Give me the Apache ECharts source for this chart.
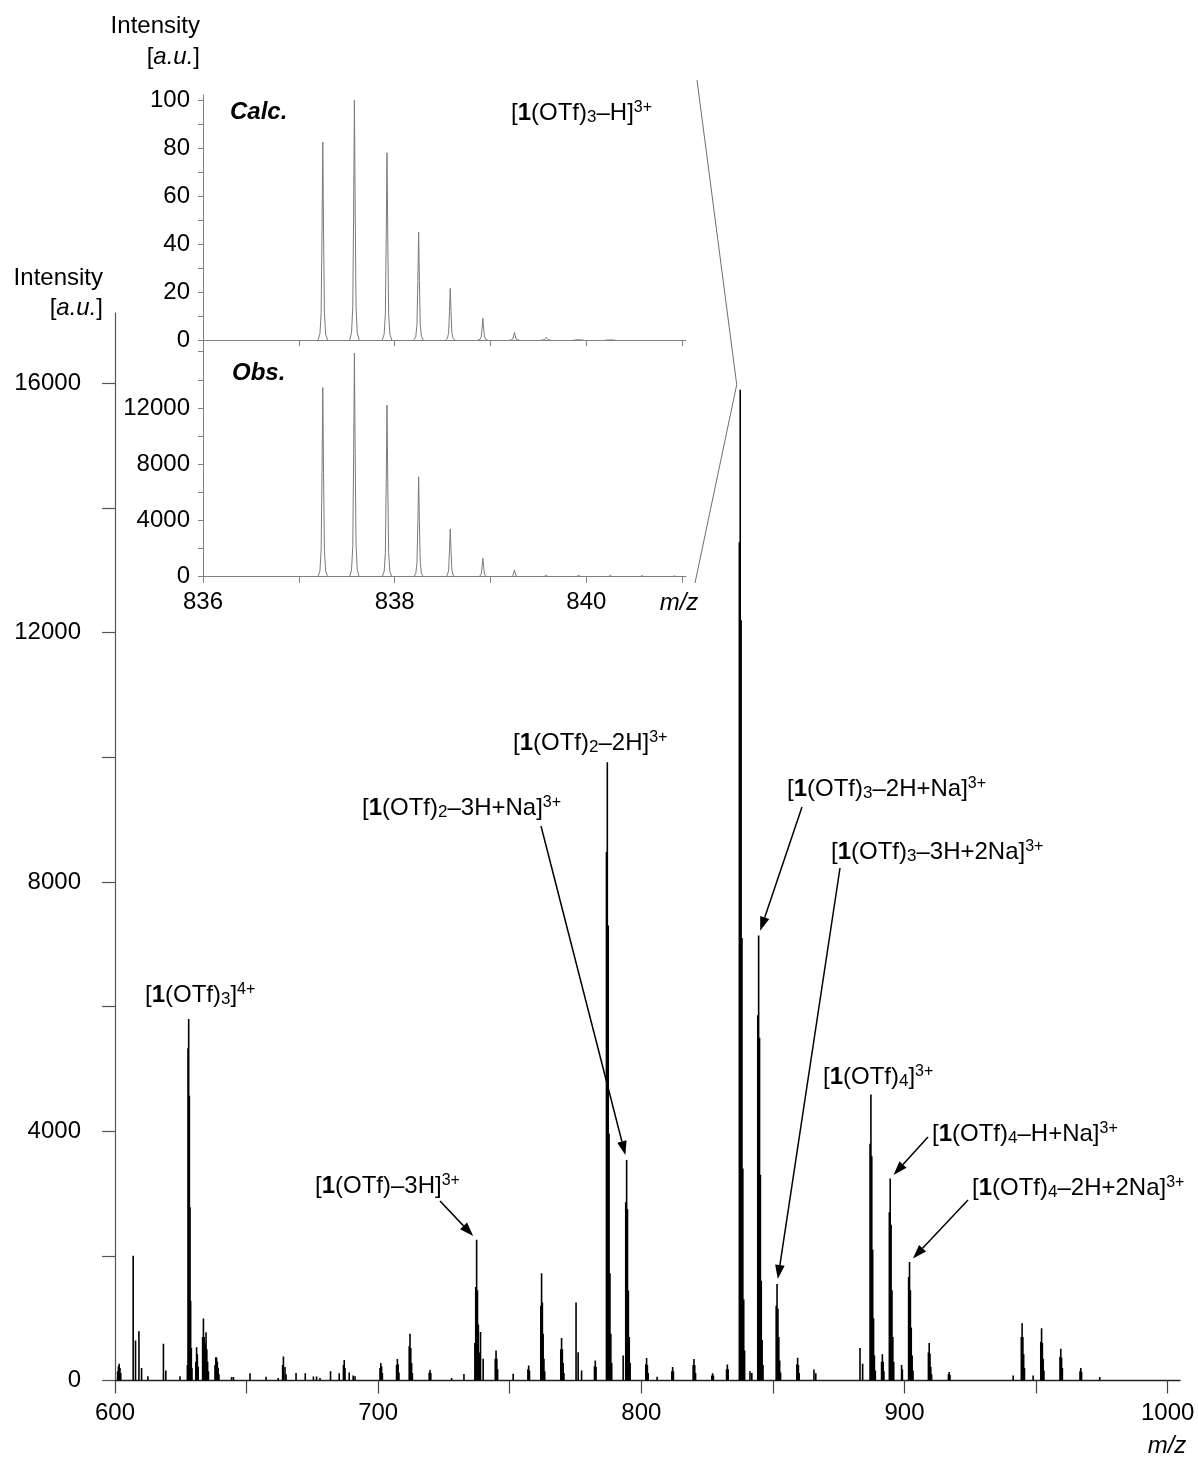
<!DOCTYPE html>
<html>
<head>
<meta charset="utf-8">
<script src="https://cdn.jsdelivr.net/npm/echarts@6/dist/echarts.min.js"></script>
<style>
  html, body { margin: 0; padding: 0; background: #ffffff; }
  #chart { width: 1198px; height: 1459px; }
</style>
</head>
<body>
<div id="chart"></div>
<script>
// ---------- Full ESI mass spectrum (m/z, intensity) ----------
const mainMz = [
  601.0, 601.3, 601.6, 601.9, 602.2, 606.9, 607.8, 609.1, 610.1, 612.5, 618.4, 619.3, 624.7,
  627.5, 627.75, 628.0, 628.25, 628.5, 628.75, 629.0, 629.25,
  630.7, 631.0, 631.3, 631.6, 633.3, 633.6, 633.9, 634.3, 634.6, 634.9, 635.2, 635.5,
  638.0, 638.3, 638.6, 638.9, 639.2, 639.5, 644.3, 645.0, 651.3, 657.4, 662.0,
  663.7, 664.0, 664.6, 665.0, 668.8, 672.3, 675.4, 676.6, 677.9, 681.9, 685.2,
  686.8, 687.1, 687.4, 689.0, 690.5, 691.2,
  700.7, 701.0, 701.3, 701.6, 707.0, 707.3, 707.6, 707.9, 711.8, 712.1, 712.4, 712.7, 713.0,
  719.4, 719.7, 720.0, 727.9, 732.6,
  736.75, 737.08, 737.42, 737.75, 738.08, 738.42, 738.9, 739.9,
  744.5, 744.8, 745.1, 745.4, 751.3, 756.9, 757.2, 757.5,
  761.8, 762.1, 762.4, 762.7, 763.0, 763.3, 769.4, 769.7, 770.0, 770.3, 770.6,
  775.2, 776.0, 777.3, 782.2, 782.5, 782.8,
  786.75, 787.08, 787.42, 787.75, 788.08, 788.42, 788.75, 793.1,
  794.08, 794.42, 794.75, 795.08, 795.42, 795.75,
  801.7, 802.0, 802.3, 802.6, 806.0, 811.6, 811.9, 812.2, 819.7, 820.0, 820.3, 820.6,
  826.8, 827.1, 827.4, 832.4, 832.7, 833.0,
  837.25, 837.58, 837.92, 838.25, 838.58, 838.92, 839.25, 841.3, 842.0,
  844.25, 844.58, 844.92, 845.25, 845.58, 845.92, 846.25,
  851.25, 851.58, 851.92, 852.25, 852.58, 852.92,
  859.1, 859.4, 859.7, 860.0, 865.6, 866.3, 883.1, 884.1,
  886.92, 887.25, 887.58, 887.92, 888.25, 888.58, 888.92,
  891.3, 891.6, 891.9, 892.2,
  894.25, 894.58, 894.92, 895.25, 895.58, 895.92, 898.9, 899.2,
  901.58, 901.92, 902.25, 902.58, 902.92, 903.25,
  909.1, 909.4, 909.7, 910.0, 910.3, 916.7, 917.0, 917.3, 941.3,
  944.4, 944.7, 945.0, 945.3, 945.6, 948.9, 951.8, 952.1, 952.4, 952.7, 953.0,
  959.1, 959.4, 959.7, 960.0, 966.7, 967.0, 967.3, 974.2
];
const mainIntensity = [
  150, 230, 270, 200, 120, 2000, 640, 790, 200, 70, 590, 160, 70,
  250, 5330, 5800, 4570, 2780, 1280, 520, 200,
  300, 535, 420, 220, 700, 995, 700, 600, 775, 500, 300, 150,
  250, 375, 370, 300, 200, 100, 55, 55, 115, 60, 40,
  250, 385, 215, 100, 120, 115, 65, 65, 40, 150, 115,
  250, 330, 200, 130, 80, 70,
  200, 280, 230, 120, 250, 345, 260, 130, 550, 750, 520, 280, 120,
  130, 170, 120, 40, 105,
  600, 1500, 2260, 1450, 900, 450, 780, 350,
  350, 480, 350, 180, 110, 180, 240, 160,
  1200, 1720, 1250, 750, 350, 150, 500, 680, 500, 280, 120,
  1250, 455, 160, 230, 320, 220,
  8480, 9920, 7300, 3960, 1720, 750, 280, 400,
  2860, 3540, 2750, 1445, 700, 280,
  260, 360, 250, 120, 60, 150, 215, 150, 250, 345, 250, 120,
  80, 115, 80, 180, 255, 180,
  13450, 15900, 12200, 7100, 3400, 1300, 480, 150, 120,
  5860, 7140, 5500, 3300, 1600, 650, 250,
  1200, 1550, 1150, 700, 320, 130,
  260, 365, 250, 120, 175, 115, 520, 270,
  3800, 4590, 3600, 2100, 1000, 400, 160,
  300, 420, 300, 150,
  2700, 3240, 2500, 1450, 700, 300, 250, 180,
  1660, 1900, 1450, 850, 400, 160,
  450, 600, 430, 220, 100, 100, 135, 90, 80,
  700, 920, 700, 420, 200, 80, 620, 840, 600, 350, 160,
  380, 510, 370, 200, 150, 200, 140, 55
];

// ---------- Isotope pattern of [1(OTf)3–H]3+ ----------
const calcMz = [837.25, 837.58, 837.92, 838.25, 838.58, 838.92, 839.25, 839.58, 839.92, 840.25];
const calcRelative = [82.5, 100, 78, 45, 21.5, 9, 3.2, 1.1, 0.3, 0.1];
const obsMz = [837.25, 837.58, 837.92, 838.25, 838.58, 838.92, 839.25, 839.58, 839.92, 840.25, 840.58, 840.92];
const obsIntensity = [13450, 15900, 12200, 7100, 3400, 1300, 480, 130, 120, 110, 90, 60];

// ---------- Axis ticks and labels ----------
const mainXTicks = [600, 650, 700, 750, 800, 850, 900, 950, 1000];
const mainXLabels = [600, 700, 800, 900, 1000];
const mainYTicks = [0, 2000, 4000, 6000, 8000, 10000, 12000, 14000, 16000];
const mainYLabels = [0, 4000, 8000, 12000, 16000];
const insetXTicks = [836, 837, 838, 839, 840, 841];
const insetXLabels = [836, 838, 840];
const calcYTicks = [0, 10, 20, 30, 40, 50, 60, 70, 80, 90, 100];
const calcYLabels = [0, 20, 40, 60, 80, 100];
const obsYTicks = [0, 2000, 4000, 6000, 8000, 10000, 12000, 14000, 16000];
const obsYLabels = [0, 4000, 8000, 12000];

// ---------- Peak assignments ----------
const annoText = [
  '[{b|1}(OTf){sub|3}]{sup|4+}',
  '[{b|1}(OTf)–3H]{sup|3+}',
  '[{b|1}(OTf){sub|2}–3H+Na]{sup|3+}',
  '[{b|1}(OTf){sub|2}–2H]{sup|3+}',
  '[{b|1}(OTf){sub|3}–2H+Na]{sup|3+}',
  '[{b|1}(OTf){sub|3}–3H+2Na]{sup|3+}',
  '[{b|1}(OTf){sub|4}]{sup|3+}',
  '[{b|1}(OTf){sub|4}–H+Na]{sup|3+}',
  '[{b|1}(OTf){sub|4}–2H+2Na]{sup|3+}'
];
// peak each arrow points at (null = label sits right above the peak)
const annoTargetMz = [null, 737.42, 794.42, null, 844.58, 851.58, null, 894.58, 901.92];
const annoTargetInt = [null, 2260, 3540, null, 7140, 1550, null, 3240, 1900];

const FONT = '"Liberation Sans", Arial, Helvetica, sans-serif';
const FS = 24;

// label anchor (left, middle) and arrow tail in pixels
const annoLayout = [
  { x: 145, y: 995 },
  { x: 315, y: 1186, tail: [440, 1201] },
  { x: 362, y: 808, tail: [541, 826] },
  { x: 513, y: 743 },
  { x: 787, y: 789, tail: [802, 807] },
  { x: 831, y: 852, tail: [840, 868] },
  { x: 823, y: 1077 },
  { x: 932, y: 1134, tail: [928, 1137] },
  { x: 972, y: 1188, tail: [968, 1200] }
];

const richStyles = {
  b: { fontSize: FS, fontWeight: 'bold', fontFamily: FONT, lineHeight: 26 },
  sub: { fontSize: 17, fontFamily: FONT, lineHeight: 21, verticalAlign: 'bottom' },
  sup: { fontSize: 16, fontFamily: FONT, lineHeight: 19, verticalAlign: 'top' },
  i: { fontSize: FS, fontStyle: 'italic', fontFamily: FONT, lineHeight: 26 },
  bi: { fontSize: FS, fontStyle: 'italic', fontWeight: 'bold', fontFamily: FONT, lineHeight: 26 }
};

function zip(a, b) { return a.map((v, i) => [v, b[i]]); }
const plain = v => String(v);

const chart = echarts.init(document.getElementById('chart'), null, { renderer: 'canvas' });

function renderStick(params, api) {
  const x = api.value(0), y = api.value(1);
  const p0 = api.coord([x, 0]);
  const p1 = api.coord([x, y]);
  return {
    type: 'line',
    shape: { x1: p0[0], y1: p0[1], x2: p1[0], y2: p1[1] },
    style: { stroke: '#000', lineWidth: 1.6 }
  };
}

// narrow profile used to draw each isotope line in the zoomed panels
const PROFILE = [[-0.05, 0], [-0.03, 0.03], [-0.017, 0.14], [-0.008, 0.55], [0, 1],
                 [0.008, 0.55], [0.017, 0.14], [0.03, 0.03], [0.05, 0]];
function renderProfile(params, api) {
  const x = api.value(0), y = api.value(1);
  const pts = PROFILE.map(p => api.coord([x + p[0], y * p[1]]));
  return {
    type: 'polyline',
    shape: { points: pts },
    style: { stroke: '#7a7a7a', lineWidth: 1, fill: null }
  };
}

const labelStyle = { color: '#000', fontSize: FS, fontFamily: FONT, formatter: plain };

const option = {
  animation: false,
  backgroundColor: '#fff',
  grid: [
    { left: 115, top: 313, width: 1065, height: 1067.5 },
    { left: 203, top: 95, width: 483, height: 245 },
    { left: 203, top: 340, width: 483, height: 236.7 }
  ],
  xAxis: [
    {
      type: 'value', gridIndex: 0, min: 600, max: 1004.7,
      axisLine: { lineStyle: { color: '#222', width: 1.3 } },
      axisTick: { length: 13, customValues: mainXTicks, lineStyle: { color: '#444', width: 1.2 } },
      axisLabel: Object.assign({ customValues: mainXLabels, margin: 21 }, labelStyle),
      splitLine: { show: false }
    },
    {
      type: 'value', gridIndex: 1, min: 836, max: 841.04,
      axisLine: { lineStyle: { color: '#808080', width: 1 } },
      axisTick: { length: 6, customValues: insetXTicks, lineStyle: { color: '#808080' } },
      axisLabel: { show: false },
      splitLine: { show: false }
    },
    {
      type: 'value', gridIndex: 2, min: 836, max: 841.04,
      axisLine: { lineStyle: { color: '#808080', width: 1 } },
      axisTick: { length: 6, customValues: insetXTicks, lineStyle: { color: '#808080' } },
      axisLabel: Object.assign({ customValues: insetXLabels, margin: 14 }, labelStyle),
      splitLine: { show: false }
    }
  ],
  yAxis: [
    {
      type: 'value', gridIndex: 0, min: 0, max: 17130,
      axisLine: { show: true, lineStyle: { color: '#555', width: 1.2 } },
      axisTick: { show: true, length: 13, customValues: mainYTicks, lineStyle: { color: '#555', width: 1.2 } },
      axisLabel: Object.assign({ customValues: mainYLabels, margin: 34 }, labelStyle),
      splitLine: { show: false }
    },
    {
      type: 'value', gridIndex: 1, min: 0, max: 102.1,
      axisLine: { show: true, lineStyle: { color: '#808080', width: 1 } },
      axisTick: { show: true, length: 5, customValues: calcYTicks, lineStyle: { color: '#808080' } },
      axisLabel: Object.assign({ customValues: calcYLabels, margin: 13 }, labelStyle),
      splitLine: { show: false }
    },
    {
      type: 'value', gridIndex: 2, min: 0, max: 16832,
      axisLine: { show: true, lineStyle: { color: '#808080', width: 1 } },
      axisTick: { show: true, length: 5, customValues: obsYTicks, lineStyle: { color: '#808080' } },
      axisLabel: Object.assign({ customValues: obsYLabels, margin: 13 }, labelStyle),
      splitLine: { show: false }
    }
  ],
  series: [
    {
      name: 'spectrum', type: 'custom', xAxisIndex: 0, yAxisIndex: 0,
      renderItem: renderStick, data: zip(mainMz, mainIntensity),
      encode: { x: 0, y: 1 }, clip: true, silent: true
    },
    {
      name: 'calc', type: 'custom', xAxisIndex: 1, yAxisIndex: 1,
      renderItem: renderProfile, data: zip(calcMz, calcRelative),
      encode: { x: 0, y: 1 }, clip: true, silent: true
    },
    {
      name: 'obs', type: 'custom', xAxisIndex: 2, yAxisIndex: 2,
      renderItem: renderProfile, data: zip(obsMz, obsIntensity),
      encode: { x: 0, y: 1 }, clip: true, silent: true
    }
  ]
};

chart.setOption(option);

function textEl(x, y, text, align) {
  return {
    type: 'text', silent: true, z: 50,
    style: {
      x: x, y: y, text: text,
      fontSize: FS, fontFamily: FONT, fill: '#000', lineHeight: 26,
      align: align || 'left', verticalAlign: 'middle',
      textAlign: align || 'left', textVerticalAlign: 'middle',
      rich: richStyles
    }
  };
}

function arrowEls(tail, tipTarget) {
  const dx = tipTarget[0] - tail[0], dy = tipTarget[1] - tail[1];
  const len = Math.sqrt(dx * dx + dy * dy);
  const ux = dx / len, uy = dy / len;
  const tip = [tipTarget[0] - ux * 5, tipTarget[1] - uy * 5];
  const head = 14, half = 4.8;
  const base = [tip[0] - ux * head, tip[1] - uy * head];
  const nx = -uy, ny = ux;
  return [
    { type: 'line', silent: true, z: 40,
      shape: { x1: tail[0], y1: tail[1], x2: base[0], y2: base[1] },
      style: { stroke: '#000', lineWidth: 1.5 } },
    { type: 'polygon', silent: true, z: 40,
      shape: { points: [tip, [base[0] + nx * half, base[1] + ny * half], [base[0] - nx * half, base[1] - ny * half]] },
      style: { fill: '#000' } }
  ];
}

const graphics = [];

// axis titles
graphics.push(textEl(103, 278, 'Intensity', 'right'));
graphics.push(textEl(103, 308, '[{i|a.u.}]', 'right'));
graphics.push(textEl(200, 26, 'Intensity', 'right'));
graphics.push(textEl(200, 57, '[{i|a.u.}]', 'right'));
graphics.push(textEl(1167, 1446, '{i|m/z}', 'center'));
graphics.push(textEl(679, 603, '{i|m/z}', 'center'));

// inset panel captions
graphics.push(textEl(230, 112, '{bi|Calc.}'));
graphics.push(textEl(232, 373, '{bi|Obs.}'));
graphics.push(textEl(511, 113, '[{b|1}(OTf){sub|3}–H]{sup|3+}'));

// peak assignments with arrows
annoText.forEach((t, i) => {
  const L = annoLayout[i];
  graphics.push(textEl(L.x, L.y, t));
  if (L.tail && annoTargetMz[i] !== null) {
    const p = chart.convertToPixel({ gridIndex: 0 }, [annoTargetMz[i], annoTargetInt[i]]);
    arrowEls(L.tail, p).forEach(e => graphics.push(e));
  }
});

// guide lines from the zoomed panels to the base peak
const apexIdx = obsIntensity.indexOf(Math.max.apply(null, obsIntensity));
const apex = chart.convertToPixel({ gridIndex: 0 }, [obsMz[apexIdx], obsIntensity[apexIdx]]);
graphics.push({
  type: 'polyline', silent: true, z: 30,
  shape: { points: [[697, 80], [apex[0] - 3.5, apex[1] - 5], [695, 583]] },
  style: { stroke: '#6e6e6e', lineWidth: 1, fill: null }
});

chart.setOption({ graphic: graphics });
</script>
</body>
</html>
